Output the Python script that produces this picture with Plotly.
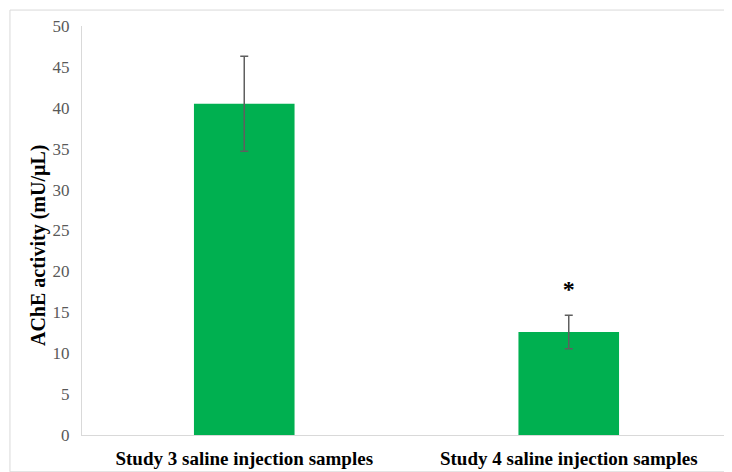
import plotly.graph_objects as go

categories = ["Study 3 saline injection samples", "Study 4 saline injection samples"]
values = [40.5, 12.6]
errors = [5.8, 2.05]
sig_labels = ["", "*"]
sig_y = [None, 17.6]
y_ticks = [0, 5, 10, 15, 20, 25, 30, 35, 40, 45, 50]
y_title = "AChE activity (mU/µL)"

fig = go.Figure()
fig.add_trace(go.Bar(
    x=categories, y=values,
    marker=dict(color="#00B050", line=dict(width=0)),
    error_y=dict(type="data", array=errors, visible=True, color="#5f5f5f", thickness=1.5, width=4),
    showlegend=False,
))
fig.add_trace(go.Scatter(
    x=[c for c, s in zip(categories, sig_labels) if s],
    y=[y for y, s in zip(sig_y, sig_labels) if s],
    text=[s for s in sig_labels if s],
    mode="text", textfont=dict(family="Liberation Serif", size=24, color="black", weight="bold"),
    showlegend=False, hoverinfo="skip",
))

fig.update_layout(
    width=724, height=464,
    margin=dict(l=74, r=1, t=18, b=37),
    paper_bgcolor="white", plot_bgcolor="white",
    bargap=0.69,
    font=dict(family="Liberation Serif"),
    xaxis=dict(
        showline=True, linecolor="#d9d9d9", linewidth=1, showgrid=False,
        ticks="", ticklabelstandoff=6,
        tickfont=dict(family="Liberation Serif", size=19, color="black", weight="bold"),
    ),
    yaxis=dict(
        range=[0, 50], tickvals=y_ticks, showgrid=False, zeroline=False,
        showline=True, linecolor="#d9d9d9", linewidth=1, ticks="",
        tickfont=dict(family="Liberation Serif", size=17, color="#595959"),
        ticklabelstandoff=8,
    ),
    annotations=[dict(text=y_title, xref="paper", yref="paper", x=-0.0678, y=0.4645,
                      textangle=-90, showarrow=False, xanchor="center", yanchor="middle",
                      font=dict(family="Liberation Serif", size=20, color="black", weight="bold"))],
    shapes=[dict(type="rect", xref="paper", yref="paper", x0=-0.111, x1=0.9995, y0=-0.09, y1=1.039,
                 line=dict(color="#d9d9d9", width=1), fillcolor="rgba(0,0,0,0)", layer="below")],
)
fig.write_html("out.html")
